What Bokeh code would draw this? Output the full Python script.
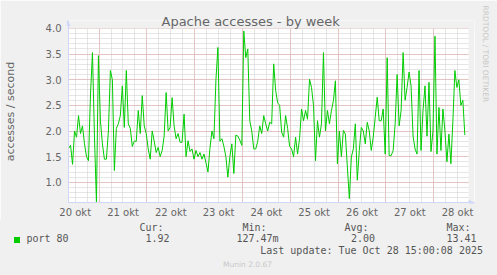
import pandas as pd
from bokeh.plotting import figure
from bokeh.layouts import column
from bokeh.models import (Range1d, FixedTicker, PrintfTickFormatter, Title,
                          BoxAnnotation, Arrow, NormalHead, Div)
from bokeh.embed import file_html
from bokeh.resources import INLINE

# ---------------- data ----------------
title_text = "Apache accesses - by week"
y_label = "accesses / second"
series_name = "port 80"
start_time = "2025-10-20 08:40"   # first sample, one sample per hour

accesses = [
    1.66, 1.72, 1.35, 2.0, 1.88, 2.3, 1.95, 2.1, 1.75, 1.5, 1.42, 2.7, 3.53, 1.9, 0.61, 3.47, 2.2, 1.75, 1.45, 1.45, 2.0, 3.18, 3.0, 1.23, 2.05,
    2.14, 2.3, 2.88, 2.07, 3.18, 2.14, 2.05, 1.7, 1.8, 1.8, 2.4, 1.95, 2.69, 2.1, 1.95, 1.65, 1.45, 2.0, 1.8, 1.58, 1.68, 1.5, 1.62, 1.9, 2.75,
    2.0, 2.07, 2.65, 2.1, 1.85, 1.95, 1.78, 1.78, 2.33, 1.5, 1.81, 1.6, 1.65, 1.45, 1.62, 1.5, 1.58, 1.45, 1.55, 1.38, 1.2, 1.66, 2.0, 1.85, 3.0,
    3.63, 1.8, 1.85, 1.7, 1.5, 1.1, 1.5, 1.75, 1.17, 1.92, 1.9, 1.82, 1.72, 3.95, 3.43, 3.6, 2.2, 2.0, 1.65, 1.65, 1.8, 2.1, 1.95, 2.3, 2.14,
    2.0, 2.17, 2.14, 3.31, 2.79, 2.55, 2.5, 1.98, 1.88, 2.3, 2.05, 1.7, 1.65, 1.5, 1.88, 1.55, 1.85, 2.43, 2.2, 2.4, 2.23, 3.01, 2.85, 2.5, 1.42,
    2.2, 1.88, 2.14, 3.53, 2.0, 2.4, 2.14, 2.4, 2.59, 2.98, 1.36, 2.0, 1.5, 2.01, 1.94, 1.3, 0.68, 1.49, 1.65, 2.14, 1.04, 1.62, 2.07, 2.0, 1.75,
    2.17, 2.0, 1.62, 1.88, 2.27, 2.66, 2.2, 2.2, 2.43, 1.55, 3.43, 1.52, 1.52, 1.62, 2.14, 3.1, 2.1, 2.4, 3.53, 2.6, 2.85, 3.15, 2.88, 1.9, 1.65,
    1.55, 3.18, 1.62, 2.4, 2.88, 1.9, 2.95, 1.6, 2.0, 3.85, 1.55, 2.46, 1.62, 2.43, 2.0, 1.4, 1.94, 1.36, 2.2, 3.18, 2.85, 3.0, 2.5, 2.6, 1.92,
]

day_labels = ["20 okt", "21 okt", "22 okt", "23 okt", "24 okt",
              "25 okt", "26 okt", "27 okt", "28 okt"]
day_label_times = ["2025-10-20 12:00", "2025-10-21 12:00", "2025-10-22 12:00",
                   "2025-10-23 12:00", "2025-10-24 12:00", "2025-10-25 12:00",
                   "2025-10-26 12:00", "2025-10-27 12:00", "2025-10-28 12:00"]
midnights = ["2025-10-21", "2025-10-22", "2025-10-23", "2025-10-24",
             "2025-10-25", "2025-10-26", "2025-10-27", "2025-10-28"]
x_start, x_end = "2025-10-20 08:38", "2025-10-28 17:31"

y_ticks = [1.0, 1.5, 2.0, 2.5, 3.0, 3.5, 4.0]
y_minor = [round(0.7 + 0.1 * i, 1) for i in range(34)]
y_min, y_max = 0.605, 4.0

legend_headers = ["Cur:", "Min:", "Avg:", "Max:"]
legend_values = ["1.92", "127.47m", "2.00", "13.41"]
last_update = "Last update: Tue Oct 28 15:00:08 2025"
munin_version = "Munin 2.0.67"
watermark = "RRDTOOL / TOBI OETIKER"

# ---------------- helpers ----------------
def ms(t):
    return int(pd.Timestamp(t).value // 10**6)

times = pd.date_range(start_time, periods=len(accesses), freq="1h")
label_ms = [ms(t) for t in day_label_times]
mid_ms = [ms(t) for t in midnights]
six_h = [ms(t) for t in pd.date_range("2025-10-20 12:00", "2025-10-28 12:00", freq="6h")]

FONT = "DejaVu Sans"
MONO = "DejaVu Sans Mono"
AXIS_COL = "#CFD6F8"
TXT = "#666666"
LEG = "#555555"
BG = "#F0F0F0"

# frame is extended a little (top / right) to leave room for the axis arrows
x_frame_end = ms(x_end) + 3 * 3600 * 1000
y_frame_top = y_max + 0.156

p = figure(width=497, height=220, x_axis_type="datetime",
           x_range=Range1d(ms(x_start), x_frame_end),
           y_range=Range1d(y_min, y_frame_top),
           output_backend="svg", toolbar_location=None,
           min_border_left=67, min_border_right=23,
           min_border_top=20, min_border_bottom=18,
           background_fill_color="white", border_fill_color=BG,
           outline_line_color=None)

# grids
for g in (p.xgrid, p.ygrid):
    g.grid_line_color = "#E4A2A2"
    g.grid_line_dash = "1 1"
    g.minor_grid_line_color = "#CDCDCD"
    g.minor_grid_line_dash = "1 1"
p.xgrid.ticker = FixedTicker(ticks=mid_ms, minor_ticks=six_h)

# strips outside the graph area (arrow room)
p.add_layout(BoxAnnotation(bottom=y_max, fill_color=BG, fill_alpha=1.0,
                           line_color=None, level="underlay"))
p.add_layout(BoxAnnotation(left=ms(x_end), fill_color=BG, fill_alpha=1.0,
                           line_color=None, level="underlay"))

# y axis
p.yaxis.ticker = FixedTicker(ticks=y_ticks, minor_ticks=y_minor)
p.yaxis.formatter = PrintfTickFormatter(format="%.1f")
p.yaxis.axis_label = y_label
p.yaxis.axis_label_text_font = FONT
p.yaxis.axis_label_text_font_size = "11px"
p.yaxis.axis_label_text_font_style = "normal"
p.yaxis.axis_label_text_color = TXT
p.yaxis.axis_label_standoff = 26

# shared axis styling
for ax in (p.xaxis, p.yaxis):
    ax.axis_line_color = AXIS_COL
    ax.major_tick_line_color = None
    ax.minor_tick_line_color = None
    ax.major_tick_out = 0
    ax.major_tick_in = 0
    ax.minor_tick_out = 0
    ax.minor_tick_in = 0
    ax.major_label_text_font = FONT
    ax.major_label_text_font_size = "10px"
    ax.major_label_text_color = TXT
p.yaxis.major_label_standoff = 7

p.xaxis.ticker = FixedTicker(ticks=label_ms)
p.xaxis.major_label_overrides = dict(zip(label_ms, day_labels))
p.xaxis.major_label_standoff = 4

# data line
p.line(times, accesses, line_color="#00CC00", line_width=1)

# axis arrows
head = dict(size=5, fill_color=AXIS_COL, line_color=AXIS_COL)
p.add_layout(Arrow(x_start=67, y_start=28, x_end=67, y_end=20.5,
                   start_units="canvas", end_units="canvas",
                   line_color=AXIS_COL, line_width=1, end=NormalHead(**head)))
p.add_layout(Arrow(x_start=468, y_start=202.5, x_end=473.5, y_end=202.5,
                   start_units="canvas", end_units="canvas",
                   line_color=AXIS_COL, line_width=1, end=NormalHead(**head)))

# title (above) and watermark (right)
p.title = Title(text=title_text, align="left", offset=93, standoff=-17,
                text_font=FONT, text_font_size="13px", text_color=TXT,
                text_font_style="normal")
p.add_layout(Title(text=watermark, align="left", offset=-15, standoff=12,
                   text_font=FONT, text_font_size="7.5px", text_color="#C8C8C8",
                   text_font_style="normal"), "right")

# ---------------- legend strip (HTML text below the plot) ----------------
def span(text, left, top, size, color, font, right=None):
    pos = f"right:{right}px;" if right is not None else f"left:{left}px;"
    return (f'<span style="position:absolute;{pos}top:{top}px;font-family:\'{font}\';'
            f'font-size:{size}px;line-height:{size}px;color:{color};white-space:pre;">{text}</span>')

hdr_x = [139.5, 242.5, 344.5, 446.5]
val_x = [145.5, 236.5, 351.0, 446.5]
parts = ['<div style="position:absolute;left:14px;top:17px;width:6px;height:6px;background:#00CC00;"></div>',
         span(series_name, 26.5, 14.04, 10, LEG, MONO)]
parts += [span(h, x, 3.04, 10, LEG, MONO) for h, x in zip(legend_headers, hdr_x)]
parts += [span(v, x, 14.04, 10, LEG, MONO) for v, x in zip(legend_values, val_x)]
parts.append(span(last_update, 0, 25.54, 10, LEG, MONO, right=14))
parts.append(span(munin_version, 223, 40.65, 7.5, "#C8C8C8", FONT))
html = ('<div style="position:relative;width:497px;height:55px;background:#F0F0F0;margin:0;padding:0;">'
        + "".join(parts) + "</div>")
legend_div = Div(text=html, width=497, height=55, margin=0,
                 styles={"background-color": BG})

open("out.html", "w").write(file_html(column(p, legend_div, spacing=0), INLINE))
